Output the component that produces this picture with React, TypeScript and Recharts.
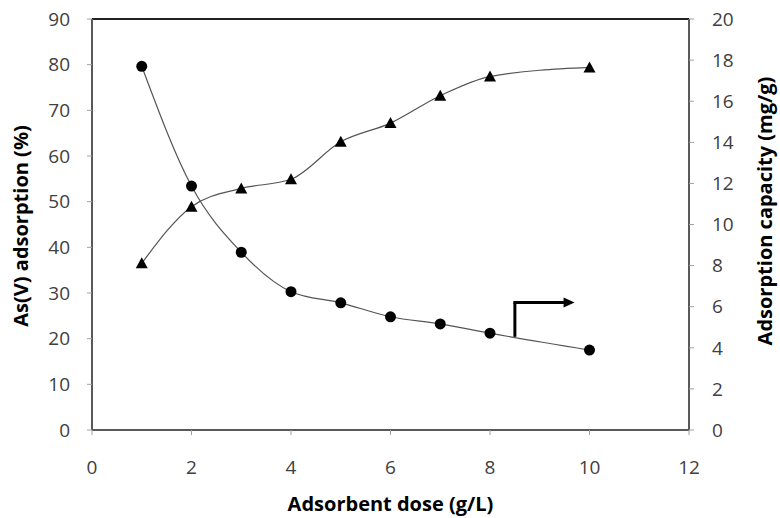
import React from "react";
import {
  ComposedChart,
  Line,
  XAxis,
  YAxis,
  ReferenceLine,
  Label,
} from "recharts";

// adsorbent dose (g/L)
const dose = [1, 2, 3, 4, 5, 6, 7, 8, 10];
// As(V) adsorption (%) — triangles, left axis
const adsorptionPct = [36.5, 48.9, 52.9, 54.9, 63.1, 67.2, 73.2, 77.4, 79.4];
// adsorption capacity (mg/g) — circles, right axis
const capacity = [17.7, 11.87, 8.65, 6.73, 6.19, 5.51, 5.16, 4.71, 3.89];

const xTicks = [0, 2, 4, 6, 8, 10, 12];
const leftTicks = [0, 10, 20, 30, 40, 50, 60, 70, 80, 90];
const rightTicks = [0, 2, 4, 6, 8, 10, 12, 14, 16, 18, 20];

// arrow pointing to the right axis, in left-axis units
const arrowPath = [
  { x: 8.5, y: 20.4 },
  { x: 8.5, y: 27.9 },
  { x: 9.7, y: 27.9 },
];

const data = dose.map((d, i) => ({
  dose: d,
  pct: adsorptionPct[i],
  cap: capacity[i],
}));

const FONT = "'Open Sans', sans-serif";
const tick = { fontSize: 19, fill: "#404040", fontFamily: FONT };
const TITLE_SIZE = 20;

const Triangle = (props: any) => {
  const { cx, cy } = props;
  if (cx == null || cy == null) return null;
  return (
    <polygon
      points={`${cx},${cy - 6} ${cx - 6},${cy + 5} ${cx + 6},${cy + 5}`}
      fill="#000"
    />
  );
};

const ArrowHead = (props: any) => {
  const { x1, y1, x2, y2 } = props;
  return (
    <g>
      <line x1={x1 - 1.5} y1={y1} x2={x2 - 8} y2={y2} stroke="#000" strokeWidth={3} />
      <polygon points={`${x2},${y2} ${x2 - 11},${y2 - 5} ${x2 - 11},${y2 + 5}`} fill="#000" />
    </g>
  );
};

const axisTitle = (text: string, pos: "left" | "right" | "bottom") => (p: any) => {
  const vb = p.viewBox;
  if (pos === "bottom") {
    return (
      <text x={vb.x + vb.width / 2} y={511} textAnchor="middle" fontSize={TITLE_SIZE} fontWeight="bold" fontFamily={FONT} fill="#000">
        {text}
      </text>
    );
  }
  const x = pos === "left" ? 20 : 764;
  const y = pos === "left" ? 226 : 211;
  return (
    <text x={x} y={y} transform={`rotate(-90 ${x} ${y})`} textAnchor="middle" dominantBaseline="central" fontSize={TITLE_SIZE} fontWeight="bold" fontFamily={FONT} fill="#000">
      {text}
    </text>
  );
};

export default function App() {
  return (
    <div style={{ position: "fixed", left: 0, top: 0, background: "#fff" }}>
      <ComposedChart width={780} height={518} data={data} margin={{ top: 19, right: 0, bottom: 0, left: 0 }}>
        <XAxis
          dataKey="dose"
          type="number"
          domain={[0, 12]}
          ticks={xTicks}
          tick={tick}
          tickSize={5}
          tickMargin={26}
          height={88}
          axisLine={{ stroke: "#595959", strokeWidth: 2 }}
          tickLine={{ stroke: "#a0a0a0" }}
        >
          <Label content={axisTitle("Adsorbent dose (g/L)", "bottom")} />
        </XAxis>
        <YAxis
          yAxisId="left"
          domain={[0, 90]}
          ticks={leftTicks}
          tick={tick}
          tickSize={5}
          tickMargin={17}
          width={92}
          axisLine={{ stroke: "#595959", strokeWidth: 2 }}
          tickLine={{ stroke: "#a0a0a0" }}
        >
          <Label content={axisTitle("As(V) adsorption (%)", "left")} />
        </YAxis>
        <YAxis
          yAxisId="right"
          orientation="right"
          domain={[0, 20]}
          ticks={rightTicks}
          tick={{ ...tick, textAnchor: "start" }}
          tickSize={5}
          tickMargin={18}
          width={91}
          axisLine={{ stroke: "#595959", strokeWidth: 2 }}
          tickLine={{ stroke: "#a0a0a0" }}
        >
          <Label content={axisTitle("Adsorption capacity (mg/g)", "right")} />
        </YAxis>
        <ReferenceLine yAxisId="left" y={90} stroke="#222" strokeWidth={2} />
        <Line
          yAxisId="left"
          dataKey="pct"
          type="monotone"
          stroke="#555"
          strokeWidth={1.2}
          dot={<Triangle />}
          activeDot={false}
          isAnimationActive={false}
        />
        <Line
          yAxisId="right"
          dataKey="cap"
          type="monotone"
          stroke="#555"
          strokeWidth={1.2}
          dot={{ r: 5.5, fill: "#000", stroke: "#000", strokeWidth: 0 }}
          activeDot={false}
          isAnimationActive={false}
        />
        <ReferenceLine
          yAxisId="left"
          segment={[arrowPath[0], arrowPath[1]]}
          stroke="#000"
          strokeWidth={3}
        />
        <ReferenceLine
          yAxisId="left"
          segment={[arrowPath[1], arrowPath[2]]}
          stroke="#000"
          strokeWidth={3}
          shape={<ArrowHead />}
        />
      </ComposedChart>
    </div>
  );
}
